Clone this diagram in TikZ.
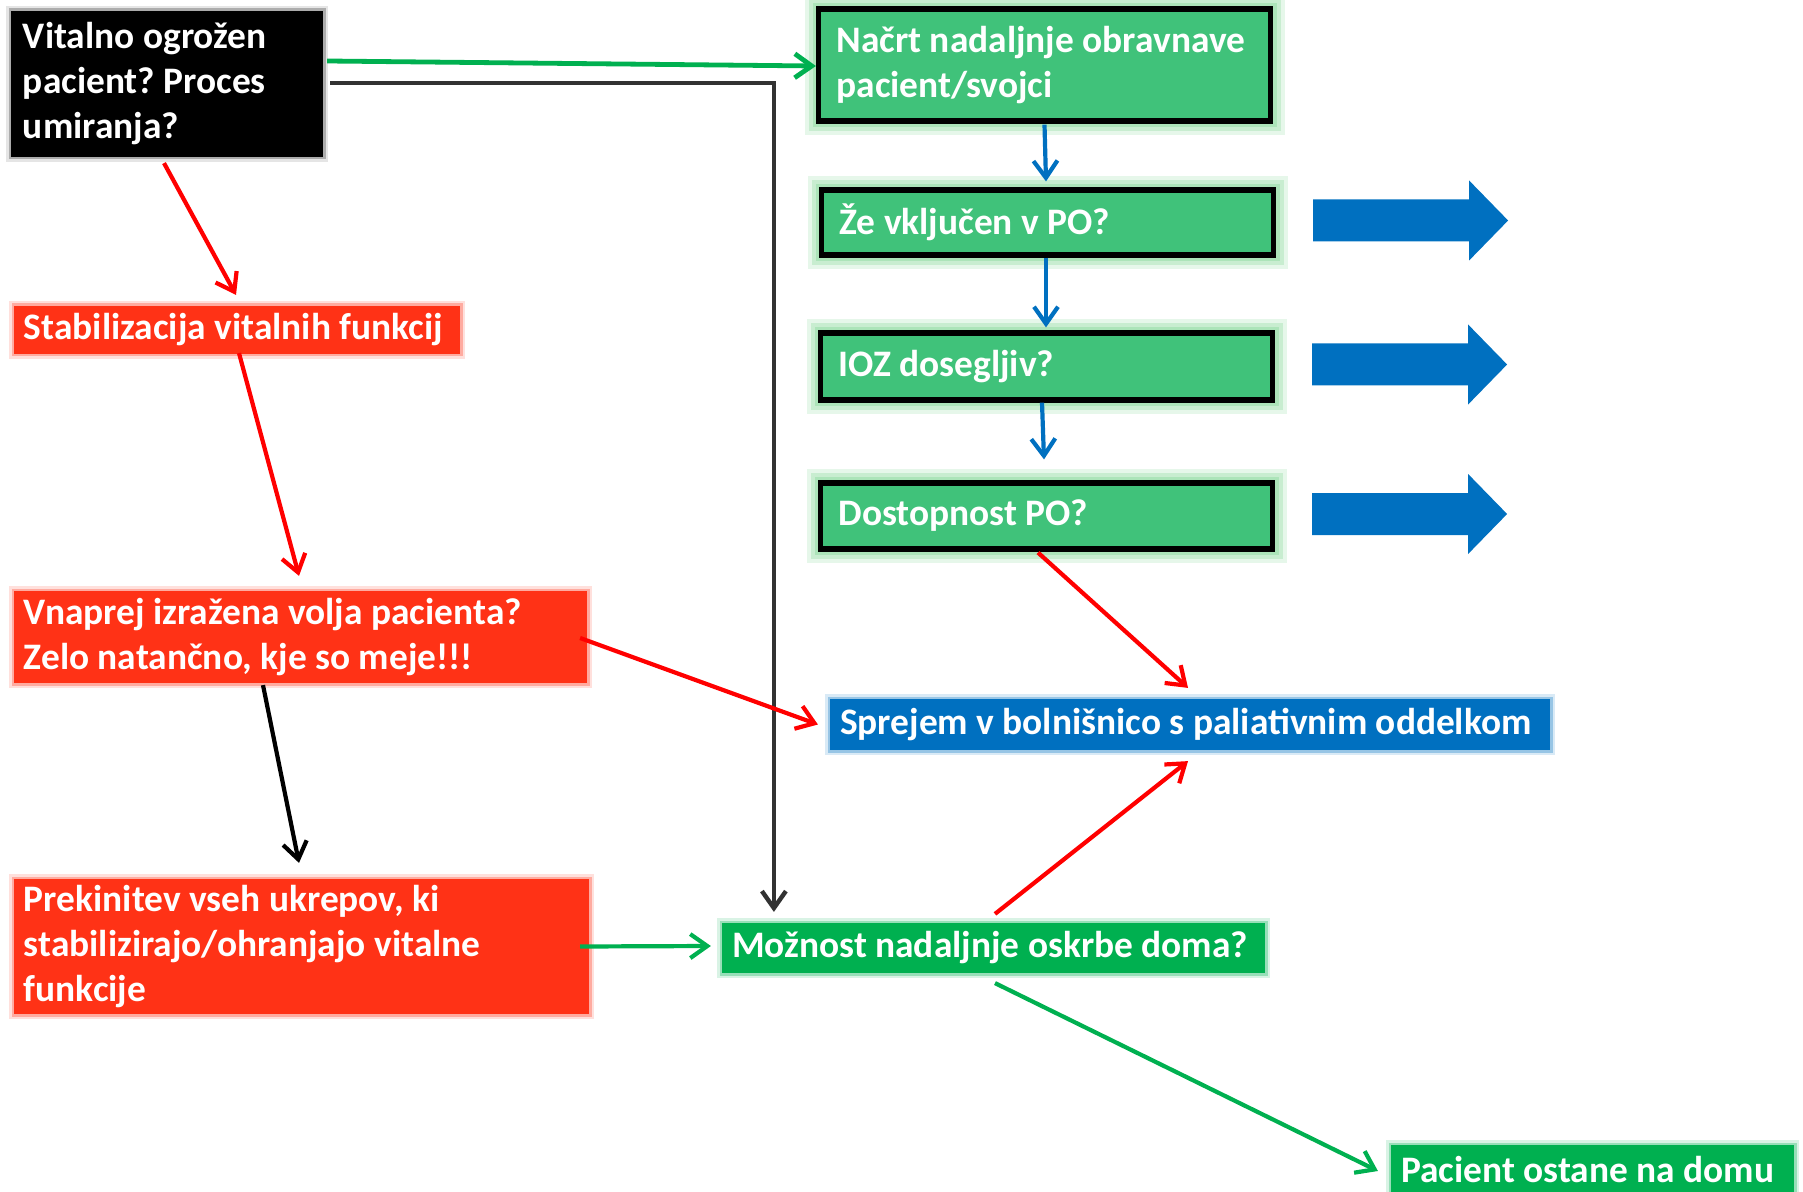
\documentclass[tikz,border=0pt]{standalone}
\usepackage{fontspec}
\setmainfont{Carlito}
\usetikzlibrary{arrows.meta}
\definecolor{boxgreen}{RGB}{64,194,122}
\definecolor{glowgreen}{RGB}{130,214,150}
\definecolor{okgreen}{RGB}{0,176,80}
\definecolor{boxred}{RGB}{255,50,22}
\definecolor{boxblue}{RGB}{0,112,192}
\definecolor{linegray}{RGB}{50,50,50}
\tikzstyle{every path}=[line width=2.1pt]
\tikzstyle{box}=[font=\bfseries\fontsize{18.7}{22.5}\selectfont\frenchspacing, text=white, align=flush left, inner ysep=0pt]
\tikzstyle{stepgreen}=[box, fill=boxgreen, draw=black, line width=2.6pt, inner xsep=9pt,
    preaction={draw=glowgreen, line width=14pt, opacity=0.2},
    preaction={draw=glowgreen, line width=10pt, opacity=0.3},
    preaction={draw=glowgreen, line width=6pt, opacity=0.4}]
\tikzstyle{redbox}=[box, fill=boxred, inner xsep=5pt,
    preaction={draw=boxred, line width=5pt, opacity=0.15}, preaction={draw=boxred, line width=2.5pt, opacity=0.3}]
\tikzstyle{bluebox}=[box, fill=boxblue, inner xsep=5pt,
    preaction={draw=boxblue, line width=5pt, opacity=0.15}, preaction={draw=boxblue, line width=2.5pt, opacity=0.3}]
\tikzstyle{okbox}=[box, fill=okgreen, inner xsep=5pt,
    preaction={draw=okgreen, line width=5pt, opacity=0.15}, preaction={draw=okgreen, line width=2.5pt, opacity=0.3}]
\tikzstyle{blackbox}=[box, fill=black, inner xsep=6pt,
    preaction={draw=black, line width=5pt, opacity=0.1}, preaction={draw=black, line width=2.5pt, opacity=0.25}]
\tikzstyle{arrow}=[-{Straight Barb[length=8.5pt,width=12pt]}]

\begin{document}
\begin{tikzpicture}[x=0.5pt, y=-0.5pt]
            \useasboundingbox (0,0) rectangle (1803,1192);

            \node[blackbox, text width=144pt, minimum height=73pt] (vital) at (167,84)
                {Vitalno ogrožen\\ pacient? Proces\\ umiranja?};
            \node[stepgreen, text width=208pt, minimum height=56pt] (nacrt) at (1044.5,65)
                {Načrt nadaljnje obravnave\\ pacient/svojci};
            \node[stepgreen, text width=208pt, minimum height=32.5pt] (ze) at (1047.5,222.5)
                {Že vključen v PO?};
            \node[stepgreen, text width=208pt, minimum height=33.5pt] (ioz) at (1046.5,366.5)
                {IOZ dosegljiv?};
            \node[stepgreen, text width=208pt, minimum height=33pt] (dost) at (1046.5,516)
                {Dostopnost PO?};

            \node[redbox, text width=213pt, minimum height=24pt] (stab) at (237,330)
                {Stabilizacija vitalnih funkcij};
            \node[redbox, text width=276.5pt, minimum height=46pt] (vnap) at (300.5,637)
                {Vnaprej izražena volja pacienta?\\ Zelo natančno, kje so meje!!!};
            \node[redbox, text width=277.5pt, minimum height=67.5pt] (prek) at (301.5,946.5)
                {Prekinitev vseh ukrepov, ki\\ stabilizirajo/ohranjajo vitalne\\ funkcije};

            \node[bluebox, text width=350pt, minimum height=25.5pt] (sprej) at (1190,724.5)
                {Sprejem v bolnišnico s paliativnim oddelkom};
            \node[okbox, text width=261.5pt, minimum height=25pt] (mozn) at (993.5,948)
                {Možnost nadaljnje oskrbe doma?};
            \node[okbox, text width=191.5pt, minimum height=25pt] (pac) at (1592.5,1170)
                {Pacient ostane na domu};

            \foreach \q in {ze,ioz,dost}
                \fill[boxblue] ([shift={(37,-23)}]\q.east) -- ++(156,0) -- ++(0,-19) -- ++(39,40)
                    -- ++(-39,40) -- ++(0,-19) -- ++(-156,0) -- cycle;

            \draw[arrow, okgreen, line width=2.4pt] ([shift={(2,-23)}]vital.east) -- ([shift={(0,1)}]nacrt.west);
            \draw[arrow, linegray, line width=2.2pt] ([shift={(5,-1)}]vital.east) -| ([shift={(54,-9)}]mozn.north west);
            \draw[arrow, red] ([shift={(-3,4)}]vital.south) -- ([shift={(-1,-9)}]stab.north);
            \draw[arrow, red] ([shift={(2,-3)}]stab.south) -- ([shift={(-1.5,-13)}]vnap.north);
            \draw[arrow, red] ([shift={(-9,1)}]vnap.east) -- ([shift={(-10,0)}]sprej.west);
            \draw[arrow, black] ([shift={(-37.5,0)}]vnap.south) -- ([shift={(-2.5,-14)}]prek.north);
            \draw[arrow, okgreen] ([shift={(-11,0)}]prek.east) -- ([shift={(-9,-2)}]mozn.west);
            \draw[arrow, red] ([shift={(1.5,-7)}]mozn.north) -- ([shift={(-2,9)}]sprej.south);
            \draw[arrow, red] ([shift={(-8.5,1)}]dost.south) -- ([shift={(-2,-9)}]sprej.north);
            \draw[arrow, okgreen] ([shift={(1.5,8)}]mozn.south) -- ([shift={(-11,1)}]pac.west);

            \draw[arrow, boxblue] ([shift={(0,1)}]nacrt.south) -- ([shift={(-1.5,-6)}]ze.north);
            \draw[arrow, boxblue] ([shift={(-1.5,0)}]ze.south) -- ([shift={(-0.5,-3)}]ioz.north);
            \draw[arrow, boxblue] ([shift={(-4.5,0)}]ioz.south) -- ([shift={(-2.5,-21)}]dost.north);
        \end{tikzpicture}
\end{document}
